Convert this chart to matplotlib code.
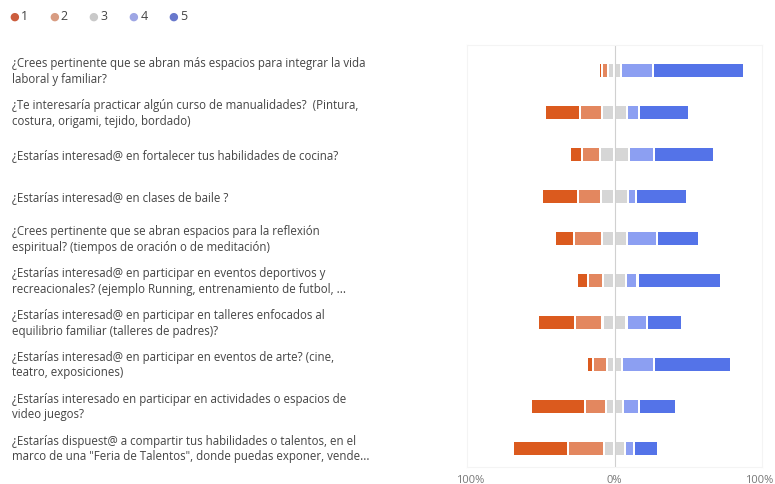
import matplotlib
matplotlib.use("Agg")
import matplotlib.pyplot as plt

# Antworten in % je Frage (Skala 1..5)
preguntas = [
    "¿Crees pertinente que se abran más espacios para integrar la vida\nlaboral y familiar?",
    "¿Te interesaría practicar algún curso de manualidades?  (Pintura,\ncostura, origami, tejido, bordado)",
    "¿Estarías interesad@ en fortalecer tus habilidades de cocina?",
    "¿Estarías interesad@ en clases de baile ?",
    "¿Crees pertinente que se abran espacios para la reflexión\nespiritual? (tiempos de oración o de meditación)",
    "¿Estarías interesad@ en participar en eventos deportivos y\nrecreacionales? (ejemplo Running, entrenamiento de futbol, ...",
    "¿Estarías interesad@ en participar en talleres enfocados al\nequilibrio familiar (talleres de padres)?",
    "¿Estarías interesad@ en participar en eventos de arte? (cine,\nteatro, exposiciones)",
    "¿Estarías interesado en participar en actividades o espacios de\nvideo juegos?",
    "¿Estarías dispuest@ a compartir tus habilidades o talentos, en el\nmarco de una \"Feria de Talentos\", donde puedas exponer, vende...",
]
n1 = [2.2, 24.6, 8.5, 24.7, 13.2, 7.5, 25.9, 3.9, 37.4, 38.3]
n2 = [4.0, 14.9, 12.8, 16.1, 19.4, 10.4, 19.0, 10.3, 14.1, 24.6]
n3 = [8.9, 17.5, 19.5, 18.5, 17.5, 16.2, 16.6, 9.8, 12.3, 14.5]
n4 = [22.5, 8.1, 17.3, 5.7, 20.7, 7.8, 14.1, 22.4, 10.8, 6.0]
n5 = [62.4, 34.9, 41.9, 35.0, 29.2, 58.1, 24.4, 53.6, 25.4, 16.6]

escala = ["1", "2", "3", "4", "5"]
colores = ["#db5a1e", "#e3875f", "#d6d6d6", "#8c9ff2", "#5473e8"]
colores_leyenda = ["#cc5d3d", "#d89c82", "#c9c9c9", "#9ea6e4", "#6878cc"]

W, H = 775, 485
fig = plt.figure(figsize=(W / 100, H / 100), dpi=100)
ax = fig.add_axes([467 / W, (485 - 468) / H, 295 / W, 422 / H])

gap = 1.4      # Luecke zwischen Segmenten (in %)
alto = 0.31
for i in range(len(preguntas)):
    a, b, c, d, e = n1[i], n2[i], n3[i], n4[i], n5[i]
    segs = [
        (-(a + b + c / 2), a, 0),
        (-(b + c / 2), b, 1),
        (-c / 2, c / 2, 2),
        (0, c / 2, 2),
        (c / 2, d, 3),
        (c / 2 + d, e, 4),
    ]
    for left, w, k in segs:
        ww = max(w - gap, 0.5)
        ax.barh(i, ww, left=left + (w - ww) / 2, height=alto,
                color=colores[k], edgecolor="none", zorder=2)

ax.axvline(0, color="#d0d0d0", linewidth=0.8, zorder=1)
ax.set_xlim(-102, 102)
ax.set_ylim(len(preguntas) - 1 + 0.45, -0.61)
ax.set_yticks([])
ax.set_xticks([-100, 0, 100])
ax.set_xticklabels(["100%", "0%", "100%"], color="#777777", fontsize=8,
                   family="Open Sans")
ax.tick_params(axis="x", length=0, pad=5)
for s in ax.spines.values():
    s.set_color("#f4f4f4")
    s.set_linewidth(0.8)

# Fragetexte links
for i, txt in enumerate(preguntas):
    y_px = ax.transData.transform((0, i))[1]
    fig.text(12 / W, y_px / H, txt, ha="left", va="center", fontsize=8.3,
             family="Open Sans", color="#444444", linespacing=1.25)

# Legende oben
for k, lab in enumerate(escala):
    x = (14 + 39.8 * k) / W
    fig.text(x, 1 - 17 / H, "●", ha="center", va="center", fontsize=8,
             color=colores_leyenda[k])
    fig.text(x + 7 / W, 1 - 17 / H, lab, ha="left", va="center", fontsize=9,
             family="Open Sans", color="#444444")

fig.savefig("out.png", dpi=100)
